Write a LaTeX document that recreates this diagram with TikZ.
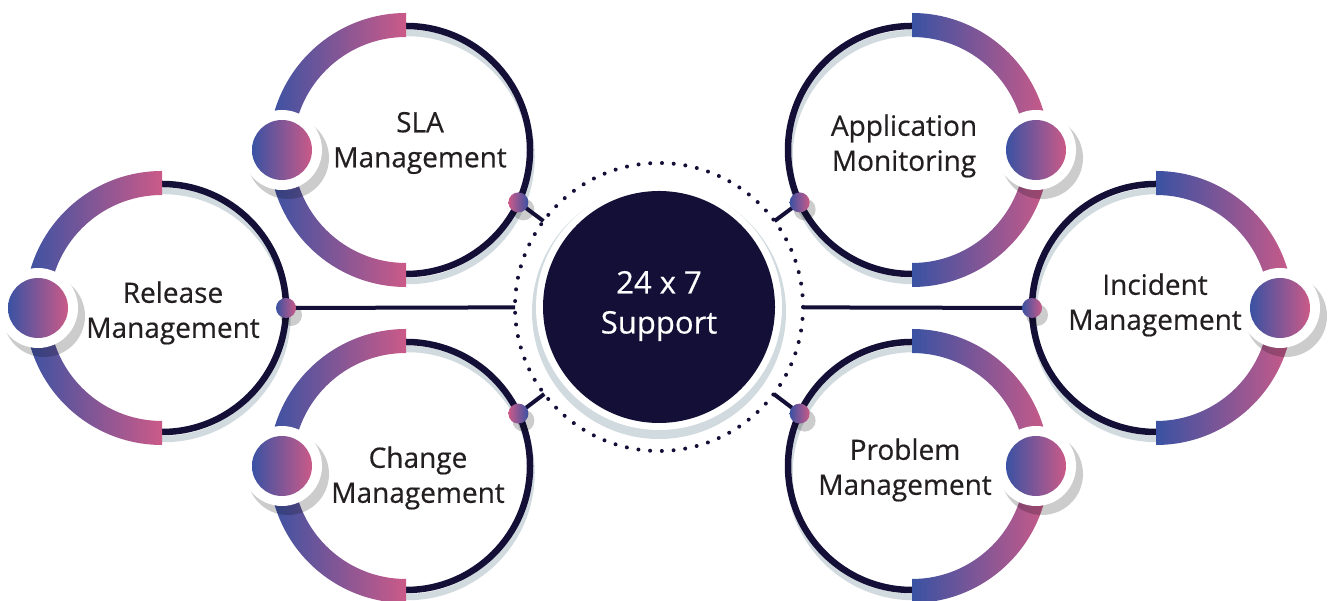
\documentclass[tikz,border=0pt]{standalone}
\usepackage{fontspec}
\setmainfont{Open Sans}
\newfontfamily\tagfont{Open Sans}[FakeBold=0.5]
\usetikzlibrary{calc}
\definecolor{navy}{HTML}{140F36}
\definecolor{blueg}{HTML}{3A52A3}
\definecolor{pinkg}{HTML}{CB5A88}
\definecolor{ringgray}{HTML}{D1DADF}
\definecolor{textgray}{HTML}{231F20}
\tikzset{
  ringline/.style={draw=navy,line width=6.5pt},
  ringshadow/.style={draw=ringgray,line width=6.5pt},
  gradband/.style={left color=blueg,right color=pinkg},
  dropshadow/.style={fill=black,opacity=0.2},
  linkline/.style={draw=navy,line width=4pt},
  tagtext/.style={text=textgray,align=center,font=\tagfont\fontsize{28}{35}\selectfont},
  hubtext/.style={text=white,align=center,font=\tagfont\fontsize{31}{40}\selectfont}
}

\begin{document}
\begin{tikzpicture}[x=1pt,y=1pt]
  \useasboundingbox (0,0) rectangle (1333,601);

  % Centres
  \coordinate (c) at (659,294);
  \coordinate (sla) at (406,451);
  \coordinate (rel) at (162,293);
  \coordinate (chg) at (406,135);
  \coordinate (app) at (912,451);
  \coordinate (inc) at (1156,293);
  \coordinate (prb) at (912,135);

  % Rings
  \foreach \m in {sla,rel,chg,app,inc,prb} {
    \draw[ringshadow] ($(\m)+(1.5,-7)$) circle (124);
    \draw[ringline] (\m) circle (124);
  }

  % Bands
  \foreach \m in {sla,rel,chg}
    \shade[gradband] ($(\m)+(0,137)$) arc (90:270:137) -- ++(0,24) arc (270:90:113) -- cycle;
  \foreach \m in {app,inc,prb}
    \shade[gradband] ($(\m)+(0,-137)$) arc (-90:90:137) -- ++(0,-24) arc (90:-90:113) -- cycle;

  % Big blobs
  \foreach \m/\a in {sla/180,rel/180,chg/180,app/0,inc/0,prb/0} {
    \fill[dropshadow] ($(\m)+(\a:124)+(6,-8)$) circle (41);
    \fill[white] ($(\m)+(\a:124)$) circle (40);
    \shade[gradband] ($(\m)+(\a:124)$) circle (30);
  }

  % Hub
  \draw[navy,line width=4pt,line cap=round,dash pattern=on 0pt off 11.75pt] (c) circle (144);
  \fill[ringgray] ($(c)+(0,-5)$) circle (127);
  \fill[white] (c) circle (123);
  \fill[navy] (c) circle (116);
  \node[hubtext] (hub) at ($(c)+(0,1)$) {24 x 7\\Support};

  % Links
  \foreach \m/\a/\n/\cl/\cr in {sla/-25/s1/pinkg/blueg,rel/0/s2/blueg/pinkg,chg/25/s3/pinkg/blueg,
                                app/205/s4/blueg/pinkg,inc/180/s5/blueg/pinkg,prb/155/s6/blueg/pinkg} {
    \coordinate (\n) at ($(\m)+(\a:124)$);
    \coordinate (t\n) at ($(c)!144pt!(\n)$);
    \fill[dropshadow] ($(\n)+(5,-7)$) circle (11);
    \draw[linkline] (\n) -- (t\n);
    \shade[left color=\cl,right color=\cr] (\n) circle (10);
  }

  % Labels
  \node[tagtext] (tsla) at (420,458) {SLA\\Management};
  \node[tagtext] (trel) at (173,288) {Release\\Management};
  \node[tagtext] (tchg) at (418,123) {Change\\Management};
  \node[tagtext] (tapp) at (904,455) {Application\\Monitoring};
  \node[tagtext] (tinc) at (1155,296) {Incident\\Management};
  \node[tagtext] (tprb) at (905,131) {Problem\\Management};
\end{tikzpicture}
\end{document}
